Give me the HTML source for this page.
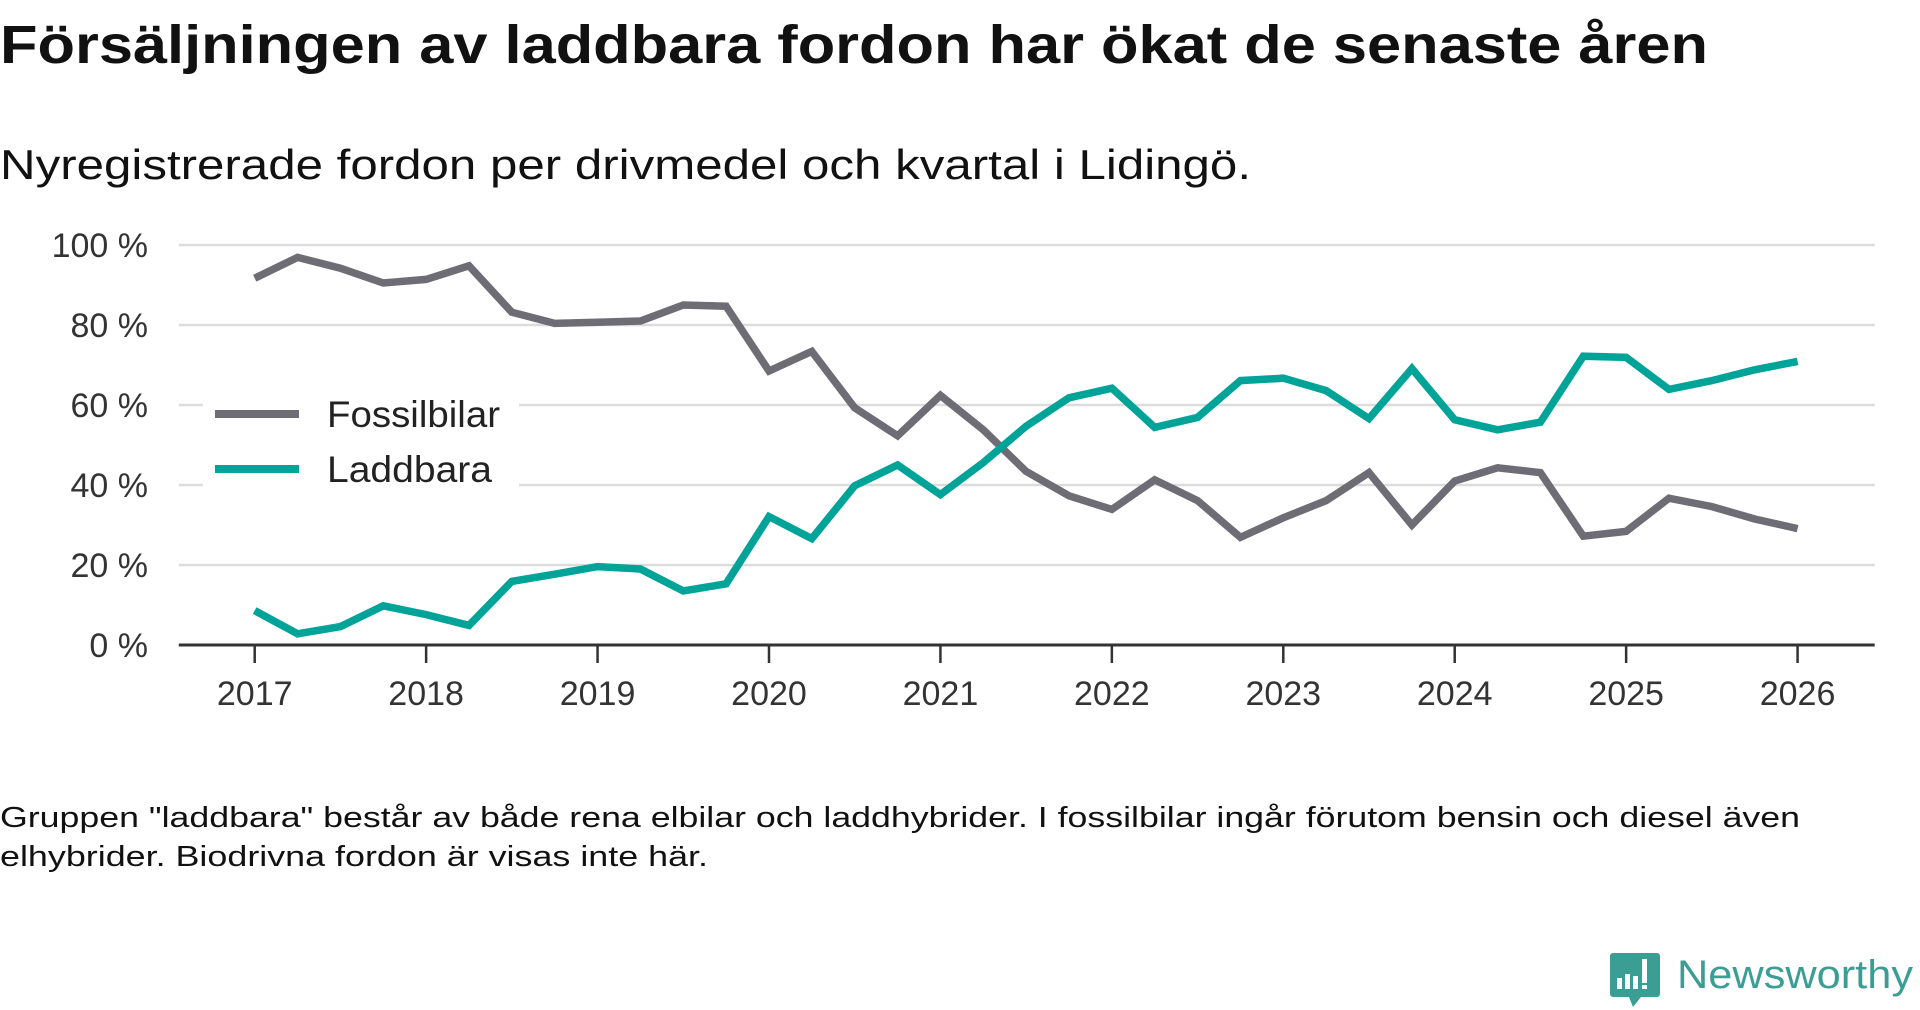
<!DOCTYPE html>
<html><head><meta charset="utf-8"><style>
html,body{margin:0;padding:0;background:#fff;width:1920px;height:1010px;overflow:hidden}
svg{display:block;font-family:"Liberation Sans","DejaVu Sans",sans-serif}
</style></head><body>
<svg id="chart" width="1920" height="1010" viewBox="0 0 1920 1010">
<text x="0" y="63" font-size="54" font-weight="bold" fill="#111" textLength="1708" lengthAdjust="spacingAndGlyphs">Försäljningen av laddbara fordon har ökat de senaste åren</text>
<text x="0" y="179" font-size="42" fill="#111" textLength="1251" lengthAdjust="spacingAndGlyphs">Nyregistrerade fordon per drivmedel och kvartal i Lidingö.</text>
<g id="grid"></g>
<g id="yaxis"></g>
<g id="xaxis"></g>
<g id="series"></g>
<g>
<rect x="203" y="382" width="316" height="118" fill="#fff"/>
<line x1="215" y1="414" x2="299" y2="414" stroke="#6e6d75" stroke-width="8"/>
<text x="327" y="427" font-size="37" fill="#222" textLength="173" lengthAdjust="spacingAndGlyphs">Fossilbilar</text>
<line x1="215" y1="469" x2="299" y2="469" stroke="#00a398" stroke-width="8"/>
<text x="327" y="482" font-size="37" fill="#222" textLength="165" lengthAdjust="spacingAndGlyphs">Laddbara</text>
</g>
<text x="0" y="827" font-size="29" fill="#111" textLength="1800" lengthAdjust="spacingAndGlyphs">Gruppen "laddbara" består av både rena elbilar och laddhybrider. I fossilbilar ingår förutom bensin och diesel även</text>
<text x="0" y="866" font-size="29" fill="#111" textLength="708" lengthAdjust="spacingAndGlyphs">elhybrider. Biodrivna fordon är visas inte här.</text>
<g>
<path d="M1613 953 h44 a3 3 0 0 1 3 3 v38 a3 3 0 0 1 -3 3 h-16 l-8 10 l-4 -10 h-16 a3 3 0 0 1 -3 -3 v-38 a3 3 0 0 1 3 -3z" fill="#3a9e94"/>
<rect x="1617" y="978" width="5" height="11" fill="#fff"/><rect x="1625" y="974" width="5" height="15" fill="#fff"/><rect x="1633" y="976" width="5" height="13" fill="#fff"/><rect x="1642" y="959" width="5" height="24" fill="#fff"/><rect x="1642" y="985" width="5" height="4" fill="#fff"/>
<text x="1677" y="988" font-size="40" fill="#3a9e94" textLength="236" lengthAdjust="spacingAndGlyphs">Newsworthy</text>
</g>
</svg>
<script>
const yTicks=[0,20,40,60,80,100];
const yTickLabels=["0 %","20 %","40 %","60 %","80 %","100 %"];
const xYears=[2017,2018,2019,2020,2021,2022,2023,2024,2025,2026];
const fossil=[91.7,96.9,94.2,90.5,91.4,94.8,83.2,80.4,80.7,81,85,84.7,68.5,73.4,59.3,52.3,62.4,53.8,43.4,37.3,33.9,41.3,36.1,26.9,31.8,36.1,43.1,30,41,44.3,43.1,27.2,28.4,36.7,34.6,31.5,29.1];
const laddbara=[8.6,2.8,4.6,9.8,7.6,4.9,15.9,17.7,19.6,19,13.5,15.3,32.1,26.6,39.8,45,37.6,45.6,54.7,61.8,64.2,54.4,56.9,66.1,66.7,63.6,56.6,69.1,56.3,53.8,55.7,72.2,71.9,63.9,66.1,68.8,70.9];
const NS='http://www.w3.org/2000/svg';
const X0=178.8,X1=1874.7,Y0=645,Y100=245;
function yScale(v){return Y0-(v/100)*(Y0-Y100);}
function xScale(t){return 254.7+(t-2017)*171.43;}
function mk(tag,attrs,parent){const e=document.createElementNS(NS,tag);for(const k in attrs)e.setAttribute(k,attrs[k]);parent.appendChild(e);return e;}
const grid=document.getElementById('grid'),ya=document.getElementById('yaxis'),xa=document.getElementById('xaxis'),se=document.getElementById('series');
yTicks.forEach((v,i)=>{
  if(v>0){const l=mk('line',{x1:X0,x2:X1,y1:yScale(v),y2:yScale(v),stroke:'#dcdcdc','stroke-width':2.5},grid);
  
  }
  const t=mk('text',{x:148,y:yScale(v)+12,'font-size':34,fill:'#333','text-anchor':'end'},ya);
  t.textContent=yTickLabels[i];
  
  
});
const ax=mk('line',{x1:X0,x2:X1,y1:Y0,y2:Y0,stroke:'#333','stroke-width':3},xa);


xYears.forEach(yr=>{
  const tk=mk('line',{x1:xScale(yr),x2:xScale(yr),y1:Y0,y2:Y0+18,stroke:'#333','stroke-width':2.5},xa);
  
  
  const t=mk('text',{x:xScale(yr),y:705,'font-size':34,fill:'#333','text-anchor':'middle'},xa);
  t.textContent=yr;
  
  
});
function drawLine(vals,color,name){
  const d=vals.map((v,i)=>(i?'L':'M')+xScale(2017+i/4).toFixed(1)+' '+yScale(v).toFixed(1)).join(' ');
  const p=mk('path',{d:d,fill:'none',stroke:color,'stroke-width':7.5,'stroke-linejoin':'miter'},se);
  
  
}
drawLine(fossil,'#6e6d75','line-fossilbilar');
drawLine(laddbara,'#00a398','line-laddbara');
</script>
</body></html>
